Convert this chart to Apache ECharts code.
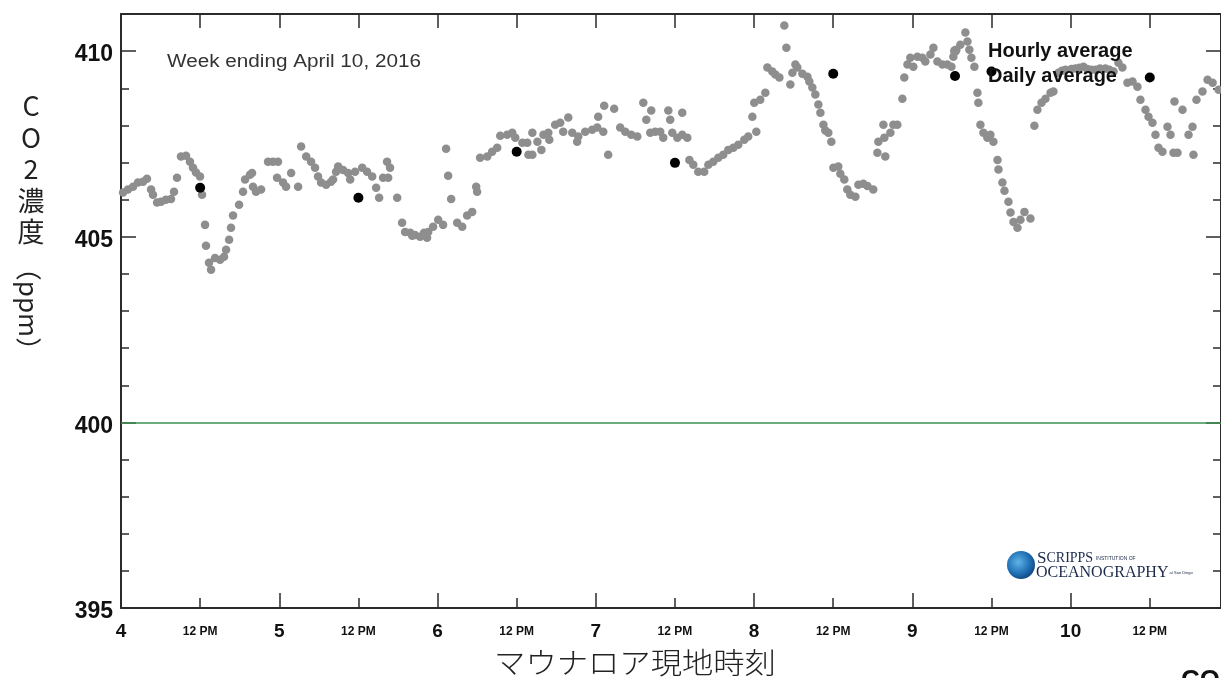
<!DOCTYPE html>
<html>
<head>
<meta charset="utf-8">
<script src="https://cdn.jsdelivr.net/npm/echarts@6/dist/echarts.min.js"></script>
<style>
  html, body { margin: 0; padding: 0; background: #fff; }
  #co2Chart { width: 1221px; height: 678px; }
</style>
</head>
<body>
<div id="co2Chart"></div>
<script>
// hourly averages, [day of April (local time), ppm]
const hourlyApr4 = [[4.013,406.19],[4.044,406.27],[4.076,406.35],[4.107,406.46],[4.139,406.48],[4.164,406.56],[4.19,406.27],[4.202,406.13],[4.228,405.92],[4.253,405.94],[4.284,406.0],[4.316,406.02],[4.335,406.21],[4.354,406.59],[4.379,407.16],[4.411,407.18],[4.436,407.02],[4.455,406.86],[4.474,406.73],[4.499,406.62],[4.512,406.13],[4.531,405.32],[4.537,404.76],[4.556,404.3],[4.569,404.11],[4.594,404.43],[4.626,404.38],[4.651,404.46],[4.664,404.65],[4.683,404.92],[4.695,405.24],[4.708,405.57],[4.746,405.86],[4.771,406.21],[4.784,406.54],[4.815,406.67],[4.828,406.72],[4.834,406.35],[4.853,406.21],[4.885,406.27],[4.929,407.02],[4.96,407.02],[4.986,406.59],[4.992,407.02]];
const hourlyApr5 = [[5.024,406.46],[5.043,406.35],[5.075,406.72],[5.119,406.35],[5.138,407.43],[5.17,407.16],[5.201,407.02],[5.226,406.86],[5.245,406.62],[5.264,406.46],[5.296,406.4],[5.327,406.48],[5.34,406.54],[5.359,406.75],[5.372,406.89],[5.403,406.8],[5.435,406.72],[5.448,406.54],[5.479,406.75],[5.524,406.86],[5.555,406.75],[5.587,406.62],[5.612,406.32],[5.631,406.05],[5.656,406.59],[5.681,407.02],[5.688,406.59],[5.7,406.86],[5.745,406.05],[5.776,405.38],[5.795,405.13],[5.827,405.11],[5.84,405.03],[5.858,405.05],[5.89,405.0],[5.915,405.11],[5.934,404.97],[5.941,405.13],[5.972,405.27]];
const hourlyApr6 = [[6.004,405.46],[6.035,405.32],[6.054,407.37],[6.067,406.64],[6.086,406.02],[6.124,405.38],[6.156,405.27],[6.187,405.57],[6.219,405.67],[6.244,406.35],[6.25,406.21],[6.269,407.13],[6.314,407.16],[6.345,407.29],[6.377,407.4],[6.396,407.72],[6.44,407.75],[6.472,407.8],[6.491,407.67],[6.536,407.53],[6.567,407.53],[6.574,407.21],[6.599,407.21],[6.599,407.8],[6.631,407.56],[6.656,407.34],[6.669,407.75],[6.7,407.8],[6.706,407.61],[6.743,408.02],[6.775,408.07],[6.794,407.83],[6.826,408.21],[6.851,407.8],[6.882,407.56],[6.889,407.7],[6.933,407.83],[6.977,407.88]];
const hourlyApr7 = [[7.009,407.94],[7.015,408.23],[7.047,407.83],[7.053,408.53],[7.078,407.21],[7.116,408.45],[7.154,407.94],[7.186,407.83],[7.224,407.75],[7.262,407.7],[7.3,408.61],[7.319,408.15],[7.344,407.8],[7.35,408.4],[7.375,407.83],[7.407,407.83],[7.426,407.67],[7.458,408.4],[7.47,408.15],[7.483,407.8],[7.515,407.67],[7.546,408.34],[7.546,407.75],[7.578,407.67],[7.591,407.07],[7.616,406.94],[7.647,406.75],[7.685,406.75],[7.711,406.94],[7.742,407.02],[7.774,407.13],[7.805,407.21],[7.837,407.34],[7.869,407.4],[7.9,407.48],[7.938,407.61],[7.963,407.7],[7.989,408.23]];
const hourlyApr8 = [[8.001,408.61],[8.014,407.83],[8.039,408.69],[8.071,408.88],[8.084,409.56],[8.115,409.45],[8.134,409.37],[8.16,409.29],[8.191,410.69],[8.204,410.09],[8.229,409.1],[8.242,409.42],[8.261,409.64],[8.273,409.56],[8.305,409.39],[8.337,409.31],[8.349,409.18],[8.368,409.02],[8.387,408.83],[8.406,408.56],[8.419,408.34],[8.438,408.02],[8.45,407.86],[8.469,407.8],[8.488,407.56],[8.501,406.86],[8.532,406.89],[8.545,406.7],[8.57,406.54],[8.589,406.27],[8.608,406.13],[8.64,406.08],[8.659,406.4],[8.69,406.43],[8.716,406.37],[8.753,406.27],[8.779,407.26],[8.785,407.56],[8.817,408.02],[8.823,407.67],[8.829,407.16],[8.861,407.8],[8.88,408.02],[8.905,408.02],[8.937,408.72],[8.949,409.29],[8.969,409.64],[8.987,409.82]];
const hourlyApr9 = [[9.006,409.58],[9.032,409.85],[9.063,409.82],[9.082,409.72],[9.114,409.91],[9.133,410.09],[9.158,409.72],[9.19,409.64],[9.221,409.64],[9.247,409.58],[9.259,409.85],[9.278,410.04],[9.303,410.17],[9.335,410.5],[9.348,410.26],[9.36,410.04],[9.373,409.82],[9.392,409.58],[9.411,408.88],[9.417,408.61],[9.43,408.02],[9.449,407.8],[9.474,407.67],[9.493,407.75],[9.512,407.56],[9.538,407.07],[9.544,406.81],[9.569,406.46],[9.582,406.24],[9.607,405.94],[9.62,405.65],[9.639,405.4],[9.664,405.24],[9.683,405.46],[9.708,405.67],[9.746,405.49],[9.771,407.99],[9.79,408.42],[9.816,408.61],[9.841,408.72],[9.873,408.88],[9.891,408.91],[9.923,409.42],[9.945,409.47],[9.967,409.5]];
const hourlyApr10 = [[10.005,409.52],[10.03,409.53],[10.055,409.55],[10.081,409.58],[10.105,409.52],[10.13,409.5],[10.157,409.5],[10.185,409.53],[10.22,409.53],[10.245,409.5],[10.271,409.45],[10.302,409.69],[10.327,409.56],[10.359,409.15],[10.391,409.18],[10.422,409.04],[10.441,408.69],[10.473,408.42],[10.492,408.23],[10.517,408.07],[10.536,407.75],[10.555,407.4],[10.58,407.29],[10.612,407.96],[10.631,407.75],[10.65,407.26],[10.656,408.64],[10.675,407.26],[10.707,408.42],[10.745,407.75],[10.77,407.96],[10.776,407.21],[10.795,408.69],[10.833,408.91],[10.865,409.23],[10.897,409.15],[10.935,408.96]];

// daily averages plotted at noon
const dailyTime = [4.5, 5.5, 6.5, 7.5, 8.5, 9.5, 10.5];
const dailyCO2 = [406.32, 406.05, 407.29, 406.99, 409.39, 409.45, 409.29];

const referenceLevel = 400;
const dayRange = [4, 10.95];
const ppmRange = [395, 411];

const hourly = [].concat(hourlyApr4, hourlyApr5, hourlyApr6, hourlyApr7, hourlyApr8, hourlyApr9, hourlyApr10);
const daily = dailyTime.map((t, i) => [t, dailyCO2[i]]);

const chart = echarts.init(document.getElementById("co2Chart"));

const frame = { show: true, onZero: false, lineStyle: { color: "#2b2b2b", width: 2 } };
const noLine = { show: false };
const tick = (len) => ({ show: true, inside: true, length: len, lineStyle: { color: "#2b2b2b", width: 1.5 } });

const xBase = { type: "value", min: dayRange[0], max: dayRange[1], splitLine: { show: false } };
const yBase = { type: "value", min: ppmRange[0], max: ppmRange[1], splitLine: { show: false } };

const option = {
  animation: false,
  grid: { left: 121, right: 0, top: 14, bottom: 70, outerBoundsMode: "none" },
  xAxis: [
    {
      ...xBase, position: "bottom", interval: 0.5,
      axisLine: frame, axisTick: tick(10),
      axisLabel: {
        margin: 12, showMaxLabel: false, color: "#111",
        formatter: (v) => (Number.isInteger(v) ? "{d|" + v + "}" : "{h|12 PM}"),
        rich: {
          d: { fontSize: 19, fontWeight: "bold", fontFamily: "Liberation Sans, Arial, sans-serif", lineHeight: 24, color: "#111" },
          h: { fontSize: 12, fontWeight: "bold", fontFamily: "Liberation Sans, Arial, sans-serif", lineHeight: 24, color: "#111" },
        },
      },
    },
    { ...xBase, position: "bottom", interval: 1, axisLine: noLine, axisTick: tick(15), axisLabel: { show: false } },
    { ...xBase, position: "top", interval: 0.5, axisLine: frame, axisTick: tick(14), axisLabel: { show: false } },
  ],
  yAxis: [
    {
      ...yBase, position: "left", interval: 5,
      axisLine: frame, axisTick: tick(15),
      axisLabel: {
        margin: 8, showMaxLabel: false, color: "#111",
        formatter: (v) => "{v|" + v + "}",
        rich: {
          v: { fontSize: 23, fontWeight: "bold", fontFamily: "Liberation Sans, Arial, sans-serif", color: "#111", padding: [8, 0, 0, 0] },
        },
      },
    },
    { ...yBase, position: "left", interval: 1, axisLine: noLine, axisTick: tick(8), axisLabel: { show: false } },
    { ...yBase, position: "right", interval: 5, axisLine: frame, axisTick: tick(15), axisLabel: { show: false } },
    { ...yBase, position: "right", interval: 1, axisLine: noLine, axisTick: tick(8), axisLabel: { show: false } },
  ],
  legend: {
    orient: "vertical",
    left: 945,
    top: 36,
    itemWidth: 10,
    itemHeight: 10,
    itemGap: 5,
    textStyle: {
      fontSize: 20, fontWeight: "bold", color: "#111", lineHeight: 20,
      fontFamily: "Liberation Sans, Arial, sans-serif", padding: [0, 0, 0, 23],
    },
    data: [
      { name: "Hourly average", icon: "circle" },
      { name: "Daily average", icon: "circle" },
    ],
  },
  graphic: [
    {
      type: "text", x: 167, y: 62, scaleX: 1.15,
      style: { text: "Week ending April 10, 2016", font: '18px "Liberation Sans", Arial, sans-serif', fill: "#333", verticalAlign: "middle" },
    },
    {
      type: "text", x: 31, y: 90,
      style: { text: "C\nO\n2\n濃\n度", font: '27px "Noto Sans CJK JP"', fill: "#222", align: "center", verticalAlign: "top", lineHeight: 31.5 },
    },
    {
      type: "text", x: 29, y: 309, rotation: -Math.PI / 2,
      style: { text: "（ppm）", font: '26px "Noto Sans CJK JP"', fill: "#222", align: "center", verticalAlign: "middle" },
    },
    {
      type: "text", x: 635, y: 663, scaleX: 1.08,
      style: { text: "マウナロア現地時刻", font: '300 29px "Noto Sans CJK JP"', fill: "#222", align: "center", verticalAlign: "middle" },
    },
    {
      type: "text", x: 1181, y: 668,
      style: { text: "CO", font: 'bold 26px "Liberation Sans", Arial, sans-serif', fill: "#111", verticalAlign: "top" },
    },
    {
      type: "circle", shape: { cx: 1021, cy: 565, r: 14 },
      style: {
        fill: new echarts.graphic.RadialGradient(0.4, 0.4, 0.7, [
          { offset: 0, color: "#5fb3e6" },
          { offset: 0.6, color: "#1f6fb4" },
          { offset: 1, color: "#0d3b73" },
        ]),
      },
    },
    {
      type: "text", x: 1037, y: 567,
      style: {
        text: "{b|S}{s|CRIPPS}{t|  INSTITUTION OF}",
        verticalAlign: "bottom", fill: "#1b2a4a",
        rich: {
          b: { font: '17px "Liberation Serif", serif', fill: "#1b2a4a" },
          s: { font: '14px "Liberation Serif", serif', fill: "#1b2a4a" },
          t: { font: '5px "Liberation Sans", sans-serif', fill: "#1b2a4a" },
        },
      },
    },
    {
      type: "text", x: 1036, y: 565,
      style: {
        text: "{b|OCEANOGRAPHY}{t| at San Diego}",
        verticalAlign: "top", fill: "#1b2a4a",
        rich: {
          b: { font: '16px "Liberation Serif", serif', fill: "#1b2a4a" },
          t: { font: '4px "Liberation Sans", sans-serif', fill: "#1b2a4a" },
        },
      },
    },
  ],
  series: [
    {
      name: "Hourly average",
      type: "scatter",
      data: hourly,
      symbol: "circle",
      symbolSize: 8.5,
      itemStyle: { color: "#8e8e8e", opacity: 1 },
      z: 2,
      markLine: {
        silent: true,
        symbol: "none",
        label: { show: false },
        lineStyle: { color: "#3a9350", width: 1.5, type: "solid" },
        data: [{ yAxis: referenceLevel }],
      },
    },
    {
      name: "Daily average",
      type: "scatter",
      data: daily,
      symbol: "circle",
      symbolSize: 10,
      itemStyle: { color: "#000", opacity: 1 },
      z: 3,
    },
  ],
};

chart.setOption(option);
</script>
</body>
</html>
